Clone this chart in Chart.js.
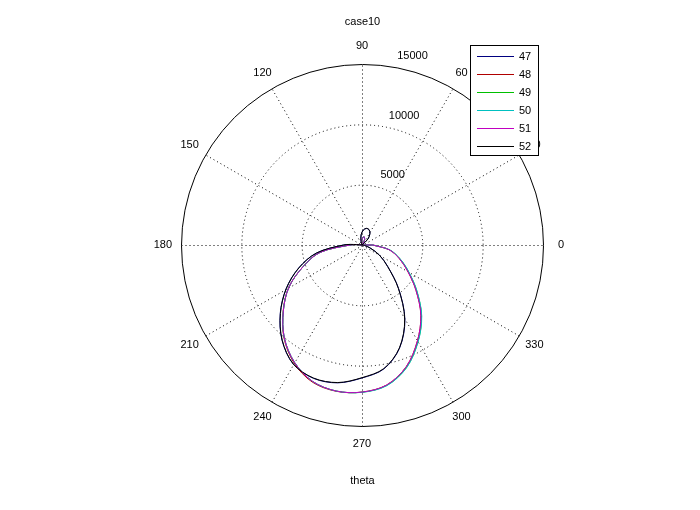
<!DOCTYPE html>
<html>
<head>
<meta charset="utf-8">
<script src="https://cdn.jsdelivr.net/npm/chart.js@4"></script>
<style>
  body { margin: 0; background: #ffffff; }
  canvas { display: block; }
</style>
</head>
<body>
<canvas id="polarChart" width="700" height="510"></canvas>
<script>
// dati (theta in gradi, r)
const theta = [0, 5, 15, 30, 45, 55, 65, 75, 85, 95, 105, 120, 135, 150, 165, 175,
               180, 190, 200, 210, 220, 230, 240, 250, 260, 270,
               280, 290, 300, 310, 320, 330, 340, 350, 360];

const r47 = [0, 0, 0, 0, 680, 1130, 1390, 1420, 1240, 840, 300, 0, 0, 0, 0, 450,
             1530, 3840, 5600, 7270, 8850, 10310, 11400, 11760, 11600, 11020,
             10430, 9100, 7110, 4720, 2800, 1670, 720, 200, 0];
const r48 = [900, 0, 0, 0, 0, 200, 500, 700, 600, 300, 0, 0, 0, 0, 0, 300,
             1000, 3535, 5170, 7000, 8530, 10060, 11280, 12080, 12310, 12190,
             11780, 10730, 9185, 7590, 5840, 4390, 3290, 2290, 900];
const r49 = [900, 0, 0, 0, 0, 200, 500, 700, 600, 300, 0, 0, 0, 0, 0, 300,
             1000, 3535, 5170, 6995, 8510, 10020, 11210, 12020, 12290, 12200,
             11820, 10800, 9270, 7680, 5930, 4470, 3350, 2330, 900];
const r50 = [900, 0, 0, 0, 0, 200, 500, 700, 600, 300, 0, 0, 0, 0, 0, 300,
             1000, 3535, 5170, 6995, 8510, 10020, 11210, 12020, 12290, 12210,
             11840, 10820, 9290, 7700, 5950, 4490, 3360, 2340, 900];
const r51 = [900, 0, 0, 0, 0, 200, 500, 700, 600, 300, 0, 0, 0, 0, 0, 300,
             1000, 3535, 5170, 6995, 8510, 10020, 11210, 12020, 12290, 12190,
             11780, 10730, 9185, 7590, 5840, 4390, 3290, 2290, 900];
const r52 = [0, 0, 0, 0, 700, 1150, 1400, 1430, 1250, 850, 300, 0, 0, 0, 0, 450,
             1510, 3815, 5570, 7245, 8825, 10290, 11385, 11735, 11575, 10995,
             10400, 9070, 7075, 4685, 2770, 1650, 700, 200, 0];

const names = ['47', '48', '49', '50', '51', '52'];
const series = [r47, r48, r49, r50, r51, r52];
const colors = ['#000080', '#b00000', '#00c000', '#00c0c0', '#c000c0', '#000000'];

// etichette
const rTicks = [5000, 10000, 15000];
const angleTicks = [0, 30, 60, 90, 120, 150, 180, 210, 240, 270, 300, 330];
const rMax = 15000;
const titleText = 'case10';
const xLabel = 'theta';

const FONT = '11px "Liberation Sans", Arial, sans-serif';

// da polare a x/y
const toXY = function(r) {
  return theta.map((t, i) => ({
    x: r[i] * Math.cos(t * Math.PI / 180),
    y: r[i] * Math.sin(t * Math.PI / 180)
  }));
};

let datasets = series.map((r, i) => ({
  label: names[i],
  data: toXY(r),
  showLine: true,
  borderColor: colors[i],
  backgroundColor: colors[i],
  borderWidth: 1,
  pointRadius: 0,
  tension: 0.33,
  order: series.length - i // gli ultimi sopra, come matlab
}));

// griglia polare, etichette, titolo
const PolarGrid = {
  id: 'polarGrid',
  beforeDatasetsDraw: (chart) => {
    const { ctx, scales } = chart;
    const xs = scales.x, ys = scales.y;
    const cx = Math.round(xs.getPixelForValue(0)) + 0.5;
    const cy = Math.round(ys.getPixelForValue(0)) + 0.5;
    const R = xs.getPixelForValue(rMax) - xs.getPixelForValue(0);

    ctx.save();
    ctx.strokeStyle = '#000000';
    ctx.lineWidth = 1;

    // raggi tratteggiati
    ctx.setLineDash([1, 3]);
    for (let a = 0; a < 180; a += 30) {
      let c = Math.cos(a * Math.PI / 180), s = Math.sin(a * Math.PI / 180);
      ctx.beginPath();
      ctx.moveTo(cx - R * c, cy + R * s);
      ctx.lineTo(cx + R * c, cy - R * s);
      ctx.stroke();
    }
    // cerchi interni
    rTicks.slice(0, -1).forEach(v => {
      let rr = xs.getPixelForValue(v) - xs.getPixelForValue(0);
      ctx.beginPath();
      ctx.arc(cx, cy, rr, 0, Math.PI * 2);
      ctx.stroke();
    });
    // cerchio esterno
    ctx.setLineDash([]);
    ctx.beginPath();
    ctx.arc(cx, cy, R, 0, Math.PI * 2);
    ctx.stroke();

    ctx.fillStyle = '#000000';
    ctx.font = FONT;

    // etichette angoli
    ctx.textAlign = 'center';
    ctx.textBaseline = 'middle';
    angleTicks.forEach(a => {
      let px = xs.getPixelForValue(1.1 * rMax * Math.cos(a * Math.PI / 180));
      let py = ys.getPixelForValue(1.1 * rMax * Math.sin(a * Math.PI / 180));
      ctx.fillText(String(a), px, py);
    });

    // etichette raggio
    ctx.textAlign = 'left';
    rTicks.forEach(v => {
      let px = xs.getPixelForValue(v * Math.cos(82 * Math.PI / 180));
      let py = ys.getPixelForValue(v * Math.sin(82 * Math.PI / 180));
      ctx.fillText(String(v), px + 10, py - 10);
    });

    // titolo e asse
    ctx.textAlign = 'center';
    ctx.fillText(titleText, cx, 22);
    ctx.fillText(xLabel, cx, 481);
    ctx.restore();
  },
  afterDraw: (chart) => {
    // legenda in stile matlab
    const { ctx } = chart;
    const bx = 470.5, by = 45.5, bw = 68, bh = 110;
    ctx.save();
    ctx.fillStyle = '#ffffff';
    ctx.fillRect(bx, by, bw, bh);
    ctx.strokeStyle = '#000000';
    ctx.lineWidth = 1;
    ctx.strokeRect(bx, by, bw, bh);
    ctx.font = FONT;
    ctx.textAlign = 'left';
    ctx.textBaseline = 'middle';
    names.forEach((n, i) => {
      let y = Math.round(56 + i * 17.9) + 0.5;
      ctx.strokeStyle = colors[i];
      ctx.beginPath();
      ctx.moveTo(477, y);
      ctx.lineTo(514, y);
      ctx.stroke();
      ctx.fillStyle = '#000000';
      ctx.fillText(n, 519, y);
    });
    ctx.restore();
  }
};

let ctx = document.getElementById('polarChart').getContext('2d');
let myPolarChart = new Chart(ctx, {
  type: 'scatter',
  data: { datasets: datasets },
  options: {
    responsive: false,
    animation: false,
    layout: { padding: { left: 181, right: 157, top: 64, bottom: 84 } },
    scales: {
      x: { type: 'linear', min: -rMax, max: rMax, display: false },
      y: { type: 'linear', min: -rMax, max: rMax, display: false }
    },
    plugins: {
      legend: { display: false },
      tooltip: { enabled: false }
    }
  },
  plugins: [PolarGrid]
});
</script>
</body>
</html>
